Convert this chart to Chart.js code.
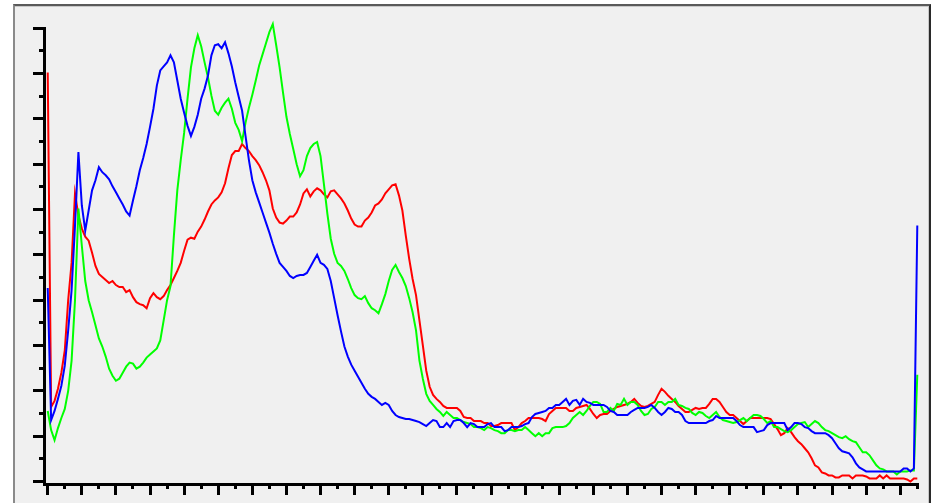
<!DOCTYPE html>
<html>
<head>
<meta charset="utf-8">
<script src="https://cdn.jsdelivr.net/npm/chart.js@4.4.1/dist/chart.umd.min.js"></script>
<style>
html, body { margin: 0; padding: 0; background: #ffffff; overflow: hidden; }
#panel {
    position: absolute; left: 13px; top: 4px; width: 914px; height: 520px;
    background: #f0f0f0;
    border-left: 2px solid #8a8a8a; border-top: 2px solid #5a5a5a; border-right: 2px solid #2a2a2a;
    box-shadow: inset 0 1px 0 #c8c8c8, inset -1px 0 0 #c8c8c8;
}
#hist { position: absolute; left: 0; top: 0; }
</style>
</head>
<body>
<div id="panel"></div>
<canvas id="hist" width="935" height="503"></canvas>
<script>
// Гистограмма по каналам, 256 уровней (0..255)
const redCounts = [
    406, 74, 80, 92, 108, 130, 180, 217, 286, 264,
    251, 243, 239, 227, 214, 206, 203, 200, 197, 199,
    195, 193, 193, 188, 190, 183, 178, 176, 175, 172,
    182, 187, 183, 181, 184, 190, 195, 202, 209, 217,
    229, 240, 242, 241, 248, 253, 260, 268, 275, 279,
    282, 287, 296, 311, 324, 328, 328, 335, 331, 328,
    323, 319, 314, 307, 299, 289, 271, 262, 257, 256,
    259, 263, 263, 267, 275, 286, 290, 283, 288, 291,
    289, 285, 282, 288, 289, 285, 281, 276, 269, 261,
    255, 253, 253, 259, 262, 267, 274, 276, 280, 286,
    290, 294, 295, 284, 269, 244, 221, 201, 185, 160,
    135, 110, 94, 86, 82, 79, 75, 73, 73, 73,
    73, 70, 64, 63, 63, 60, 60, 60, 58, 58,
    55, 55, 56, 58, 58, 58, 58, 51, 54, 58,
    60, 63, 63, 63, 63, 62, 60, 67, 70, 73,
    73, 73, 73, 70, 70, 73, 74, 75, 76, 72,
    67, 63, 66, 67, 67, 70, 72, 74, 75, 76,
    77, 79, 82, 78, 75, 74, 75, 77, 79, 86,
    92, 89, 85, 82, 79, 75, 72, 69, 69, 71,
    73, 72, 73, 73, 77, 82, 82, 79, 74, 69,
    66, 66, 63, 60, 57, 60, 63, 63, 63, 63,
    63, 63, 62, 57, 52, 46, 48, 53, 49, 44,
    40, 37, 33, 29, 23, 16, 14, 9, 8, 6,
    6, 4, 4, 6, 6, 6, 3, 6, 6, 6,
    5, 3, 3, 3, 6, 3, 6, 3, 3, 3,
    3, 3, 2, 0, 3, 3
];

const greenCounts = [
    70, 51, 41, 53, 63, 72, 90, 120, 180, 271,
    234, 199, 180, 168, 155, 142, 134, 124, 112, 105,
    100, 102, 108, 114, 118, 117, 112, 114, 118, 123,
    126, 129, 132, 140, 160, 180, 194, 244, 289, 319,
    346, 380, 411, 430, 443, 432, 416, 401, 383, 368,
    364, 371, 376, 380, 370, 356, 349, 338, 356, 371,
    384, 398, 413, 424, 435, 446, 454, 433, 411, 386,
    362, 345, 330, 315, 303, 309, 323, 331, 335, 337,
    323, 295, 266, 241, 226, 217, 214, 209, 201, 192,
    185, 182, 181, 184, 177, 172, 170, 167, 176, 186,
    199, 210, 215, 208, 202, 194, 182, 168, 150, 120,
    102, 87, 80, 76, 72, 69, 65, 69, 66, 63,
    63, 61, 59, 58, 57, 54, 54, 53, 51, 54,
    53, 51, 50, 48, 48, 51, 51, 50, 51, 51,
    54, 51, 48, 45, 48, 45, 48, 48, 53, 54,
    54, 54, 55, 58, 63, 66, 69, 66, 70, 75,
    79, 79, 77, 69, 69, 73, 70, 77, 76, 82,
    76, 79, 79, 76, 70, 66, 67, 72, 74, 79,
    79, 76, 79, 79, 82, 76, 75, 73, 72, 68,
    66, 69, 68, 65, 63, 66, 69, 64, 61, 60,
    59, 58, 59, 61, 63, 60, 63, 66, 66, 65,
    62, 58, 60, 54, 54, 52, 50, 49, 51, 54,
    57, 58, 59, 54, 57, 60, 58, 54, 51, 50,
    48, 46, 44, 43, 45, 42, 40, 39, 34, 29,
    29, 26, 21, 16, 13, 12, 10, 10, 10, 7,
    10, 10, 10, 11, 11, 106
];

const blueCounts = [
    192, 61, 70, 82, 95, 115, 150, 190, 254, 327,
    274, 249, 269, 289, 299, 312, 307, 304, 300, 293,
    287, 281, 275, 268, 264, 279, 293, 309, 321, 335,
    352, 370, 393, 408, 412, 416, 423, 416, 398, 380,
    366, 353, 343, 352, 364, 380, 390, 403, 423, 433,
    434, 430, 436, 425, 412, 396, 382, 368, 343, 319,
    299, 287, 277, 267, 257, 247, 236, 226, 217, 213,
    209, 204, 202, 204, 205, 205, 207, 213, 219, 225,
    217, 215, 211, 199, 182, 165, 149, 134, 124, 116,
    110, 104, 98, 92, 87, 84, 82, 79, 76, 78,
    76, 70, 66, 64, 63, 62, 62, 61, 60, 59,
    57, 55, 58, 61, 60, 54, 54, 58, 54, 60,
    61, 61, 58, 54, 58, 57, 54, 54, 54, 57,
    58, 54, 54, 54, 50, 51, 54, 54, 54, 55,
    57, 58, 64, 67, 68, 69, 70, 73, 73, 76,
    76, 79, 82, 76, 80, 81, 76, 82, 79, 78,
    76, 76, 76, 76, 74, 70, 69, 66, 66, 66,
    66, 69, 71, 73, 73, 73, 74, 76, 73, 69,
    66, 69, 73, 72, 69, 69, 66, 60, 58, 58,
    58, 58, 58, 58, 60, 61, 65, 63, 63, 63,
    63, 63, 60, 56, 54, 54, 54, 54, 49, 50,
    51, 56, 58, 58, 58, 58, 58, 51, 54, 58,
    58, 57, 54, 53, 50, 48, 48, 48, 48, 46,
    43, 38, 33, 30, 29, 28, 24, 18, 14, 12,
    10, 10, 10, 10, 10, 10, 10, 10, 10, 10,
    10, 13, 13, 10, 13, 254
];

// Деления осей (подписей нет)
const xMajorTicks = [0, 10, 20, 30, 40, 50, 60, 70, 80, 90, 100, 110, 120, 130, 140, 150, 160, 170, 180, 190, 200, 210, 220, 230, 240, 250];
const xMinorTicks = [5, 15, 25, 35, 45, 55, 65, 75, 85, 95, 105, 115, 125, 135, 145, 155, 165, 175, 185, 195, 205, 215, 225, 235, 245, 255];
const yMajorTicks = [0, 45, 90, 135, 180, 225, 270, 315, 360, 405, 450];
const yMinorTicks = [22.5, 67.5, 112.5, 157.5, 202.5, 247.5, 292.5, 337.5, 382.5, 427.5];

function toPoints(values) {
    return values.map((v, i) => ({ x: i, y: v }));
}

// Оси с крупными и мелкими делениями рисуем сами, по шкалам графика
const histAxes = {
    id: 'histAxes',
    afterDatasetsDraw(chart) {
        const { ctx, chartArea, scales } = chart;
        const x = scales.x, y = scales.y;
        const left = Math.round(chartArea.left);
        const bottom = Math.round(chartArea.bottom);
        ctx.save();
        ctx.fillStyle = '#000000';

        const yTop = Math.round(y.getPixelForValue(yMajorTicks[yMajorTicks.length - 1]) - 1.5);
        ctx.fillRect(left - 2, yTop, 3, bottom + 3 - yTop);
        const xEnd = Math.round(x.getPixelForValue(xMinorTicks[xMinorTicks.length - 1]) + 1.5);
        ctx.fillRect(left - 2, bottom, xEnd - left + 2, 3);

        yMajorTicks.forEach(v => {
            const py = Math.round(y.getPixelForValue(v) - 1.5);
            ctx.fillRect(left - 12, py, 10, 3);
        });
        yMinorTicks.forEach(v => {
            const py = Math.round(y.getPixelForValue(v) - 1.5);
            ctx.fillRect(left - 6, py, 4, 3);
        });
        xMajorTicks.forEach(v => {
            const px = Math.round(x.getPixelForValue(v) - 1.5);
            ctx.fillRect(px, bottom + 3, 3, 9);
        });
        xMinorTicks.forEach(v => {
            const px = Math.round(x.getPixelForValue(v) - 1.5);
            ctx.fillRect(px, bottom + 3, 3, 3);
        });
        ctx.restore();
    }
};

const ctx = document.getElementById('hist').getContext('2d');
new Chart(ctx, {
    type: 'line',
    data: {
        datasets: [
            { label: 'B', data: toPoints(blueCounts), borderColor: '#0000ff' },
            { label: 'G', data: toPoints(greenCounts), borderColor: '#00ff00' },
            { label: 'R', data: toPoints(redCounts), borderColor: '#ff0000' }
        ]
    },
    options: {
        responsive: false,
        devicePixelRatio: 1,
        animation: false,
        layout: { padding: { left: 45, right: 16, top: 8, bottom: 20 } },
        elements: {
            line: { borderWidth: 2, tension: 0, fill: false },
            point: { radius: 0 }
        },
        plugins: { legend: { display: false }, tooltip: { enabled: false } },
        scales: {
            x: { type: 'linear', min: -0.8, max: 255.5, display: false },
            y: { type: 'linear', min: -1.5, max: 470, display: false }
        }
    },
    plugins: [histAxes]
});
</script>
</body>
</html>
